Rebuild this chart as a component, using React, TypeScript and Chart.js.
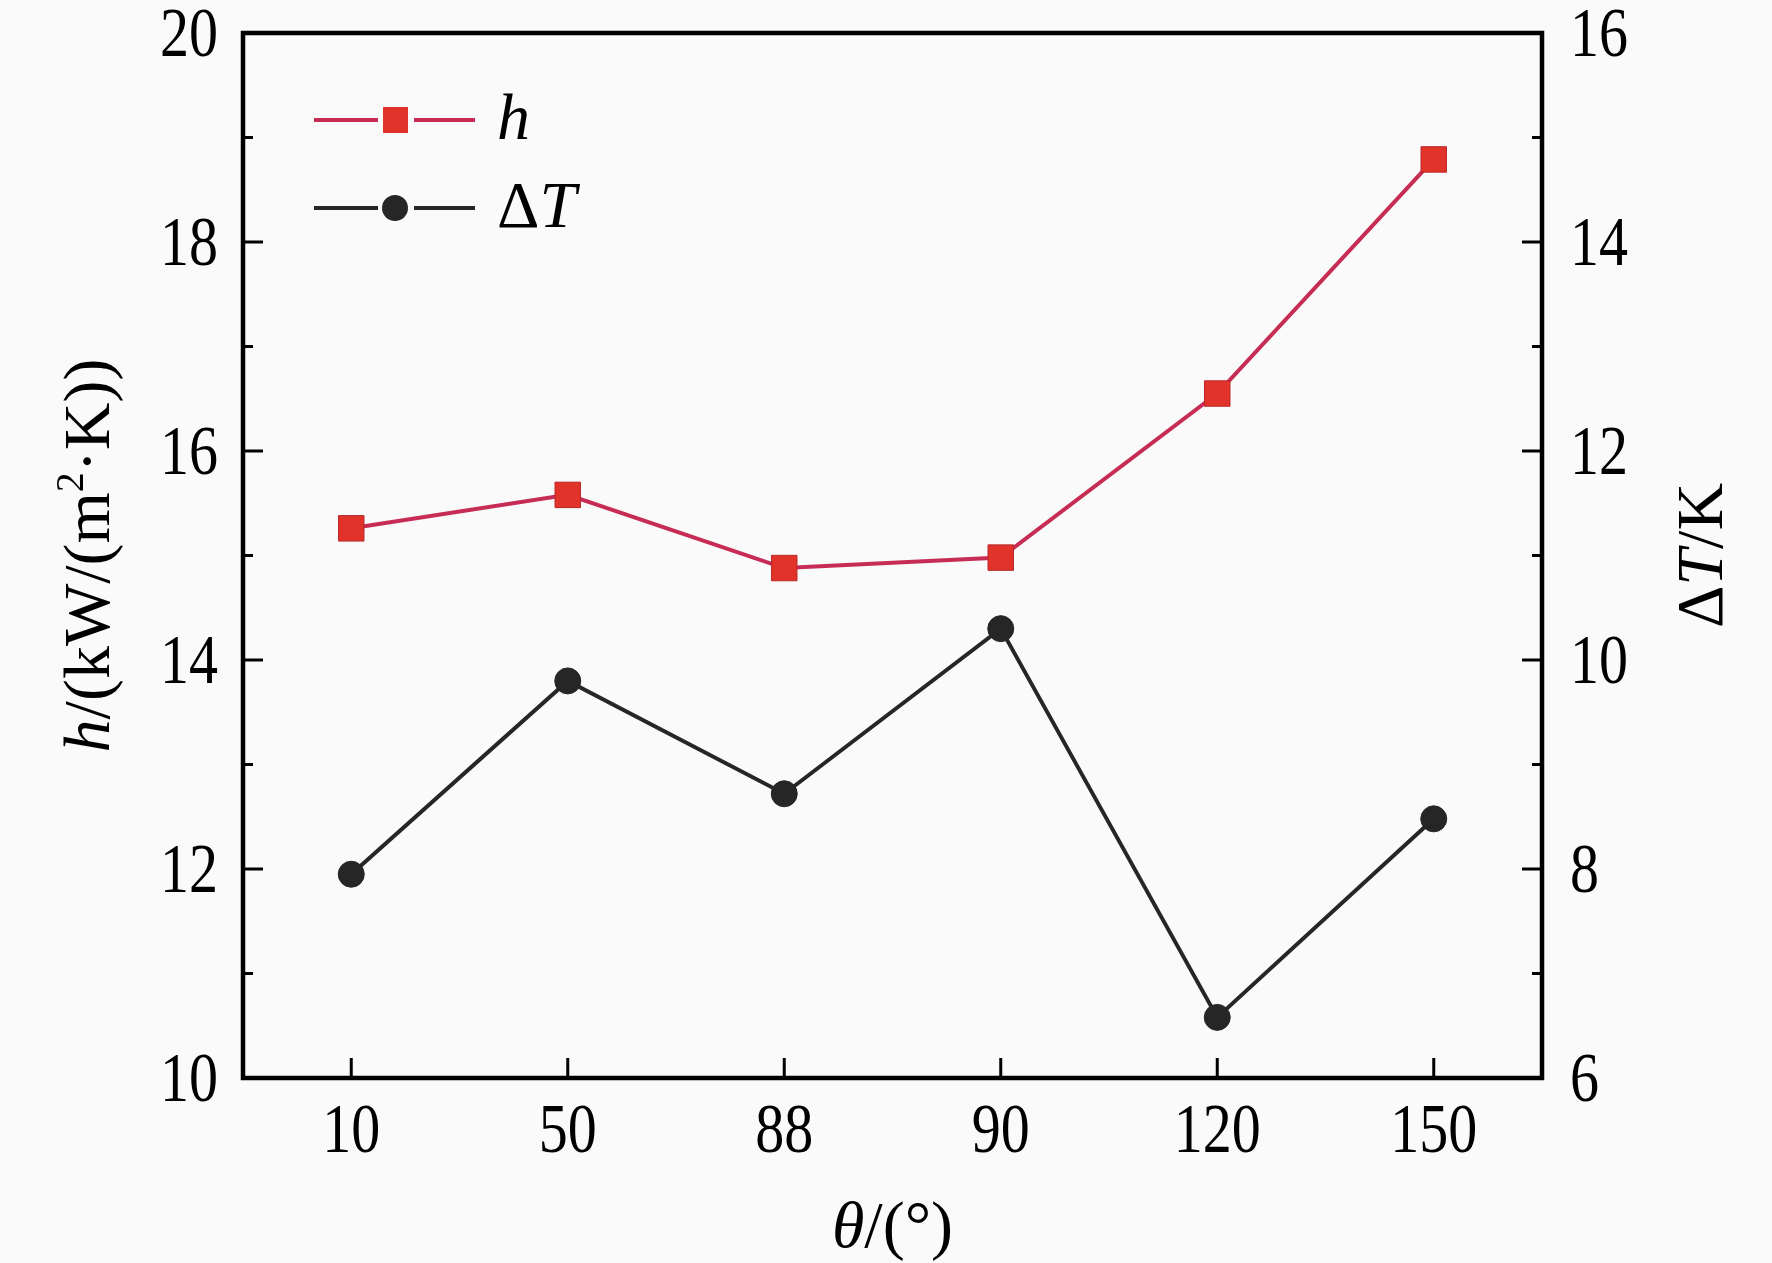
import React, { useEffect, useRef } from 'react';
import { Chart, registerables } from 'chart.js';

Chart.register(...registerables);

// θ categories (deg)
const angles = ['10', '50', '88', '90', '120', '150'];
// heat transfer coefficient h, kW/(m²·K)
const hValues = [15.26, 15.58, 14.88, 14.98, 16.55, 18.79];
// wall superheat ΔT, K
const dTValues = [7.95, 9.8, 8.72, 10.3, 6.58, 8.48];

const leftTicks = { min: 10, max: 20, step: 2 };
const rightTicks = { min: 6, max: 16, step: 2 };

const SERIF = '"Liberation Serif", "Times New Roman", serif';
const H_LINE = '#c72c54';
const H_FILL = '#e2332b';
const DT_COLOR = '#262626';
const TICK_SIZE = 58;
const TICK_STRETCH = 1.2;

type Seg = { t: string; italic?: boolean; size?: number; rise?: number };

function drawRich(ctx: CanvasRenderingContext2D, segs: Seg[], x: number, y: number, size: number, rot = 0) {
  ctx.save();
  ctx.translate(x, y);
  ctx.rotate(rot);
  ctx.fillStyle = '#000';
  ctx.textBaseline = 'alphabetic';
  ctx.textAlign = 'left';
  const font = (s: Seg) => `${s.italic ? 'italic ' : ''}${s.size ?? size}px ${SERIF}`;
  let total = 0;
  segs.forEach((s) => {
    ctx.font = font(s);
    total += ctx.measureText(s.t).width;
  });
  let cx = -total / 2;
  const base = size * 0.33;
  segs.forEach((s) => {
    ctx.font = font(s);
    ctx.fillText(s.t, cx, base - (s.rise ?? 0));
    cx += ctx.measureText(s.t).width;
  });
  ctx.restore();
}

// tick numbers are tall and narrow in the original figure
function drawTickLabel(ctx: CanvasRenderingContext2D, text: string, x: number, y: number, align: CanvasTextAlign) {
  ctx.save();
  ctx.translate(x, y);
  ctx.scale(1, TICK_STRETCH);
  ctx.font = `${TICK_SIZE}px ${SERIF}`;
  ctx.fillStyle = '#000';
  ctx.textAlign = align;
  ctx.textBaseline = 'alphabetic';
  ctx.fillText(text, 0, TICK_SIZE * 0.33);
  ctx.restore();
}

const framePlugin = {
  id: 'frame',
  afterDraw(chart: any) {
    const { ctx, chartArea: a, scales } = chart;
    ctx.save();
    ctx.strokeStyle = '#000';
    ctx.lineCap = 'butt';

    // inward ticks
    ctx.lineWidth = 3;
    const yTicks = (scale: any, lim: any, x0: number, dir: number) => {
      for (let v = lim.min; v <= lim.max; v += 1) {
        const py = scale.getPixelForValue(v);
        const len = (v - lim.min) % lim.step === 0 ? 20 : 10;
        ctx.beginPath();
        ctx.moveTo(x0, py);
        ctx.lineTo(x0 + dir * len, py);
        ctx.stroke();
      }
    };
    yTicks(scales.y, leftTicks, a.left, 1);
    yTicks(scales.y1, rightTicks, a.right, -1);
    scales.x.ticks.forEach((_: any, i: number) => {
      const px = scales.x.getPixelForTick(i);
      ctx.beginPath();
      ctx.moveTo(px, a.bottom);
      ctx.lineTo(px, a.bottom - 20);
      ctx.stroke();
    });

    // box
    ctx.lineWidth = 4.5;
    ctx.strokeRect(a.left, a.top, a.right - a.left, a.bottom - a.top);

    // tick labels
    scales.y.ticks.forEach((t: any, i: number) => drawTickLabel(ctx, String(t.value), a.left - 25, scales.y.getPixelForTick(i), 'right'));
    scales.y1.ticks.forEach((t: any, i: number) => drawTickLabel(ctx, String(t.value), a.right + 28, scales.y1.getPixelForTick(i), 'left'));
    scales.x.ticks.forEach((t: any, i: number) =>
      drawTickLabel(ctx, scales.x.getLabelForValue(t.value), scales.x.getPixelForTick(i), a.bottom + 51, 'center')
    );

    // axis titles
    drawRich(ctx, [{ t: 'h', italic: true }, { t: '/(kW/(m' }, { t: '2', size: 40, rise: 26 }, { t: '·K))' }], 87, (a.top + a.bottom) / 2, 66, -Math.PI / 2);
    drawRich(ctx, [{ t: 'Δ' }, { t: 'T', italic: true }, { t: '/K' }], 1700, (a.top + a.bottom) / 2, 66, -Math.PI / 2);
    drawRich(ctx, [{ t: 'θ', italic: true }, { t: '/(°)' }], (a.left + a.right) / 2, 1225, 66);

    // legend
    const rows = [
      { y: 120, color: H_LINE, fill: H_FILL, shape: 'rect', label: [{ t: 'h', italic: true }] },
      { y: 208, color: DT_COLOR, fill: DT_COLOR, shape: 'circle', label: [{ t: 'Δ' }, { t: 'T', italic: true }] },
    ];
    rows.forEach((r) => {
      ctx.lineWidth = 4;
      ctx.strokeStyle = r.color;
      ctx.beginPath();
      ctx.moveTo(314, r.y);
      ctx.lineTo(378, r.y);
      ctx.moveTo(414, r.y);
      ctx.lineTo(475, r.y);
      ctx.stroke();
      ctx.fillStyle = r.fill;
      ctx.beginPath();
      if (r.shape === 'rect') ctx.rect(383, r.y - 13, 25, 26);
      else ctx.arc(395, r.y, 13, 0, Math.PI * 2);
      ctx.fill();
      ctx.save();
      ctx.textBaseline = 'alphabetic';
      ctx.fillStyle = '#000';
      let x = 497;
      r.label.forEach((s: Seg) => {
        ctx.font = `${s.italic ? 'italic ' : ''}66px ${SERIF}`;
        ctx.fillText(s.t, x, r.y + 19);
        x += ctx.measureText(s.t).width;
      });
      ctx.restore();
    });
    ctx.restore();
  },
};

const bgPlugin = {
  id: 'bg',
  beforeDraw(chart: any) {
    const { ctx, width, height } = chart;
    ctx.save();
    ctx.fillStyle = '#fafafa';
    ctx.fillRect(0, 0, width, height);
    ctx.restore();
  },
};

const noPad = (s: any) => {
  s.paddingTop = 0;
  s.paddingBottom = 0;
  s.paddingLeft = 0;
  s.paddingRight = 0;
};

export default function App() {
  const canvasRef = useRef<HTMLCanvasElement>(null);
  const chartRef = useRef<Chart | null>(null);

  useEffect(() => {
    if (!canvasRef.current) return;
    const ctx = canvasRef.current.getContext('2d');
    if (!ctx) return;
    if (chartRef.current) chartRef.current.destroy();

    chartRef.current = new Chart(ctx, {
      type: 'line',
      data: {
        labels: angles,
        datasets: [
          {
            label: 'h',
            data: hValues,
            yAxisID: 'y',
            borderColor: H_LINE,
            borderWidth: 4,
            pointStyle: 'rect',
            pointRadius: 18,
            pointBackgroundColor: H_FILL,
            pointBorderColor: '#b82828',
            pointBorderWidth: 1,
          },
          {
            label: 'ΔT',
            data: dTValues,
            yAxisID: 'y1',
            borderColor: DT_COLOR,
            borderWidth: 4,
            pointStyle: 'circle',
            pointRadius: 13,
            pointBackgroundColor: DT_COLOR,
            pointBorderColor: DT_COLOR,
            pointBorderWidth: 1,
          },
        ],
      },
      options: {
        responsive: false,
        animation: false,
        devicePixelRatio: 1,
        layout: { padding: { top: 33, left: 0, right: 0, bottom: 0 } },
        plugins: { legend: { display: false }, tooltip: { enabled: false } },
        scales: {
          x: {
            type: 'category',
            offset: true,
            grid: { display: false, drawTicks: false },
            border: { display: false },
            ticks: { display: false },
            afterFit: (s: any) => {
              s.height = 185;
              noPad(s);
            },
          },
          y: {
            position: 'left',
            min: leftTicks.min,
            max: leftTicks.max,
            grid: { display: false, drawTicks: false },
            border: { display: false },
            ticks: { display: false, stepSize: leftTicks.step },
            afterFit: (s: any) => {
              s.width = 243;
              noPad(s);
            },
          },
          y1: {
            position: 'right',
            min: rightTicks.min,
            max: rightTicks.max,
            grid: { display: false, drawTicks: false },
            border: { display: false },
            ticks: { display: false, stepSize: rightTicks.step },
            afterFit: (s: any) => {
              s.width = 230;
              noPad(s);
            },
          },
        },
      },
      plugins: [bgPlugin, framePlugin],
    });

    return () => chartRef.current?.destroy();
  }, []);

  return (
    <div style={{ position: 'absolute', left: 0, top: 0, width: 1772, height: 1263 }}>
      <canvas ref={canvasRef} width={1772} height={1263}></canvas>
    </div>
  );
}
